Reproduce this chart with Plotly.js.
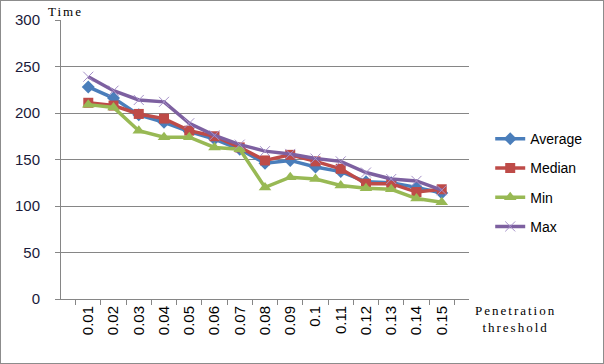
<!DOCTYPE html>
<html>
<head>
<meta charset="utf-8">
<script src="https://cdn.plot.ly/plotly-3.0.1.min.js"></script>
<style>
  body { margin: 0; background: #fff; }
  #chart { width: 604px; height: 364px; position: relative; }
  #frame { position: absolute; left: 0; top: 0; width: 604px; height: 364px;
           box-sizing: border-box; border: 1px solid #8c8c8c; pointer-events: none; }
  .annotation-text { letter-spacing: 2px; }
</style>
</head>
<body>
<div id="chart"></div>
<div id="frame"></div>
<script>
// penetration thresholds (categories)
const thresholds = ['0.01', '0.02', '0.03', '0.04', '0.05', '0.06', '0.07', '0.08',
                    '0.09', '0.1', '0.11', '0.12', '0.13', '0.14', '0.15'];

// time values
const average = [228, 216, 198, 190, 180, 172, 161, 146, 149, 142, 137, 126, 125, 120, 114];
const median  = [211, 208, 199, 194, 181, 175, 163, 149, 155, 148, 140, 124, 124, 115, 118];
const minimum = [209, 206, 181, 174, 174, 163, 161, 120, 131, 129, 122, 119, 118, 108, 104];
const maximum = [239, 224, 214, 212, 189, 176, 166, 159, 156, 151, 148, 136, 129, 127, 117];

const yTicks = [0, 50, 100, 150, 200, 250, 300];

const series = [
  { name: 'Average', y: average, color: '#4a7ebb', symbol: 'diamond', size: 10 },
  { name: 'Median',  y: median,  color: '#be4b48', symbol: 'square', size: 10 },
  { name: 'Min',     y: minimum, color: '#98b954', symbol: 'triangle-up', size: 11 },
  { name: 'Max',     y: maximum, color: '#7d60a0', symbol: 'x-thin', size: 10 }
];

const traces = series.map((s, i) => ({
  x: thresholds, y: s.y, name: s.name, type: 'scatter', mode: 'lines+markers',
  legendgroup: 'g' + i,
  line: { color: s.color, width: 3.5 },
  marker: s.symbol === 'x-thin'
    ? { symbol: s.symbol, size: s.size, color: '#a590c8', line: { color: '#a590c8', width: 1 } }
    : { symbol: s.symbol, size: s.size, color: s.color }
}));

// plot area in pixels: x 61..469, y 19.5..299
const M = { l: 61, r: 135, t: 20, b: 65 };

const layout = {
  width: 604, height: 364,
  margin: M,
  paper_bgcolor: '#fff', plot_bgcolor: '#fff',
  font: { family: 'Liberation Sans, Arial, sans-serif', size: 13, color: '#000' },
  showlegend: true,
  legend: {
    x: 1.052, xanchor: 'left', y: 0.63, yanchor: 'top',
    font: { family: 'Liberation Sans, Arial, sans-serif', size: 14, color: '#000' },
    tracegroupgap: 8, itemwidth: 30, bgcolor: 'rgba(0,0,0,0)'
  },
  xaxis: {
    type: 'category', tickangle: -90,
    showline: true, linecolor: '#868686', linewidth: 1,
    ticks: 'outside', tickson: 'boundaries', ticklen: 5, tickcolor: '#868686',
    showgrid: false, zeroline: false,
    tickfont: { size: 15, color: '#000' }
  },
  yaxis: {
    range: [0, 300], tickvals: yTicks, ticktext: yTicks.map(String),
    showline: true, linecolor: '#868686', linewidth: 1,
    ticks: 'outside', ticklen: 5, tickcolor: '#868686',
    showgrid: true, gridcolor: '#868686', gridwidth: 1, zeroline: false,
    ticklabelstandoff: 12,
    tickfont: { size: 15, color: '#1a1a3a' }
  },
  annotations: [
    { text: 'Time', xref: 'paper', yref: 'paper', x: 0.012, y: 1.03,
      xanchor: 'center', yanchor: 'middle', showarrow: false,
      font: { family: 'Liberation Serif, Times New Roman, serif', size: 13, color: '#000' } },
    { text: 'Penetration<br>threshold', xref: 'paper', yref: 'paper', x: 1.113, y: -0.072,
      xanchor: 'center', yanchor: 'middle', showarrow: false, align: 'center',
      font: { family: 'Liberation Serif, Times New Roman, serif', size: 13, color: '#000' } }
  ]
};

Plotly.newPlot('chart', traces, layout, { displayModeBar: false, staticPlot: true });
</script>
</body>
</html>
